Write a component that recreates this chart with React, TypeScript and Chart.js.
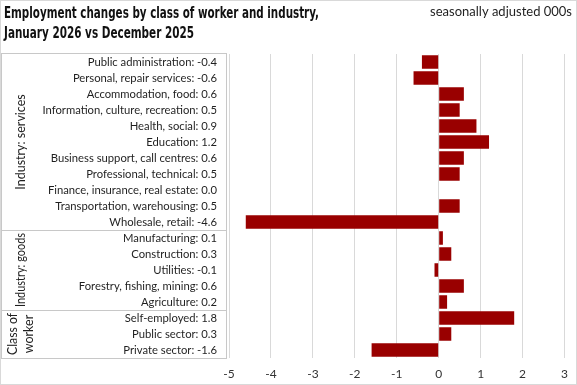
import React, { useEffect, useRef } from "react";
import { Chart, registerables } from "chart.js";

Chart.register(...registerables);

const categories = [
  "Public administration",
  "Personal, repair services",
  "Accommodation, food",
  "Information, culture, recreation",
  "Health, social",
  "Education",
  "Business support, call centres",
  "Professional, technical",
  "Finance, insurance, real estate",
  "Transportation, warehousing",
  "Wholesale, retail",
  "Manufacturing",
  "Construction",
  "Utilities",
  "Forestry, fishing, mining",
  "Agriculture",
  "Self-employed",
  "Public sector",
  "Private sector",
];

const values = [-0.4, -0.6, 0.6, 0.5, 0.9, 1.2, 0.6, 0.5, 0.0, 0.5, -4.6, 0.1, 0.3, -0.1, 0.6, 0.2, 1.8, 0.3, -1.6];

const groupNames = [["Industry: services"], ["Industry: goods"], ["Class of", "worker"]];
const groupStarts = [0, 11, 16];
const groupEnds = [10, 15, 18];

const xTicksMin = -5;
const xTicksMax = 3;

const titleLines = ["Employment changes by class of worker and industry,", "January 2026 vs December 2025"];
const subtitleText = "seasonally adjusted 000s";

const labels = categories.map((c, i) => `${c}: ${values[i].toFixed(1)}`);

const LABEL_FONT = "Lato, 'Liberation Sans', sans-serif";
const TITLE_FONT = "'DejaVu Sans Condensed', 'Liberation Sans', sans-serif";

const decorPlugin = {
  id: "decor",
  afterDraw(chart: any) {
    const ctx = chart.ctx;
    const y = chart.scales.y;
    const area = chart.chartArea;
    ctx.save();
    // outer border
    ctx.strokeStyle = "#d9d9d9";
    ctx.lineWidth = 1;
    ctx.strokeRect(0.5, 0.5, chart.width - 1, chart.height - 1);
    // label box
    const boxLeft = 1.5;
    const boxRight = area.left - 2.5;
    const top = Math.round(y.getPixelForValue(-0.5)) - 0.5;
    const bottom = Math.round(y.getPixelForValue(categories.length - 0.5)) + 0.5;
    ctx.strokeStyle = "#c8c8c8";
    ctx.strokeRect(boxLeft, top, boxRight - boxLeft, bottom - top);
    for (let g = 0; g < groupStarts.length - 1; g++) {
      const sy = Math.round(y.getPixelForValue(groupEnds[g] + 0.5)) + 0.5;
      ctx.beginPath();
      ctx.moveTo(boxLeft, sy);
      ctx.lineTo(boxRight, sy);
      ctx.stroke();
    }
    // group labels
    ctx.fillStyle = "#1f1f1f";
    ctx.font = `12.5px ${LABEL_FONT}`;
    ctx.textAlign = "center";
    ctx.textBaseline = "middle";
    for (let g = 0; g < groupStarts.length; g++) {
      const y0 = y.getPixelForValue(groupStarts[g] - 0.5);
      const y1 = y.getPixelForValue(groupEnds[g] + 0.5);
      const cy = (y0 + y1) / 2;
      const lines = groupNames[g];
      const lh = 16;
      const cx = 21;
      ctx.save();
      ctx.translate(cx, cy);
      ctx.rotate(-Math.PI / 2);
      lines.forEach((ln, i) => {
        const off = (i - (lines.length - 1) / 2) * lh;
        ctx.fillText(ln, 0, off, Math.abs(y1 - y0) - 6);
      });
      ctx.restore();
    }
    // title
    ctx.fillStyle = "#111111";
    ctx.textAlign = "left";
    ctx.textBaseline = "alphabetic";
    ctx.font = `bold 16.5px ${TITLE_FONT}`;
    ctx.fillText(titleLines[0], 4, 18, 315);
    ctx.fillText(titleLines[1], 4, 38, 190);
    ctx.font = `13px ${LABEL_FONT}`;
    ctx.fillStyle = "#1f1f1f";
    ctx.textAlign = "right";
    ctx.fillText(subtitleText, 572, 16, 148);
    ctx.restore();
  },
};

export default function App() {
  const ref = useRef<HTMLCanvasElement>(null);
  useEffect(() => {
    document.body.style.margin = "0";
    const chart = new Chart(ref.current as HTMLCanvasElement, {
      type: "bar",
      data: {
        labels,
        datasets: [
          {
            data: values,
            backgroundColor: "#990000",
            borderWidth: 0,
            barPercentage: 0.85,
            categoryPercentage: 1,
          },
        ],
      },
      options: {
        indexAxis: "y",
        responsive: false,
        animation: false,
        layout: { padding: { top: 54, bottom: 0, left: 0, right: 11 } },
        plugins: {
          legend: { display: false },
          tooltip: { enabled: false },
          title: { display: false },
        },
        scales: {
          x: {
            type: "linear",
            min: xTicksMin,
            max: xTicksMax,
            afterFit(scale: any) {
              scale.height = 27;
            },
            ticks: {
              stepSize: 1,
              padding: 9,
              color: "#333333",
              font: { family: LABEL_FONT, size: 12 },
            },
            grid: { color: "#d9d9d9", drawTicks: false },
            border: { display: false },
          },
          y: {
            type: "category",
            afterFit(scale: any) {
              scale.width = 229;
            },
            ticks: {
              padding: 12,
              color: "#1f1f1f",
              autoSkip: false,
              font: { family: LABEL_FONT, size: 11.25 },
            },
            grid: { display: false, drawTicks: false },
            border: { display: false },
          },
        },
      },
      plugins: [decorPlugin],
    });
    return () => chart.destroy();
  }, []);
  return <canvas ref={ref} width={577} height={385} style={{ display: "block" }} />;
}
